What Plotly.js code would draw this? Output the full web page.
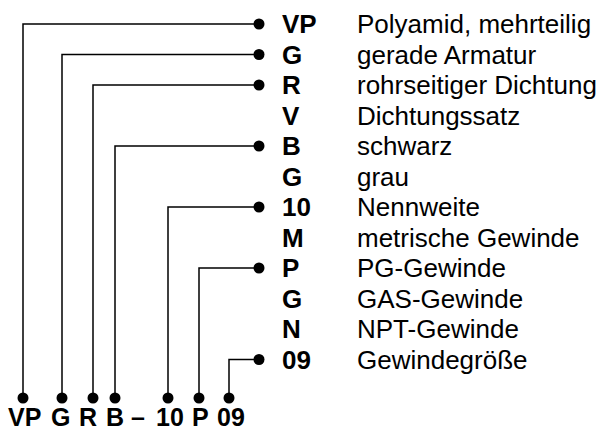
<!DOCTYPE html>
<html>
<head>
<meta charset="utf-8">
<script src="https://cdn.plot.ly/plotly-3.0.1.min.js"></script>
<style>html,body{margin:0;padding:0;background:#fff}#chart{width:606px;height:432px}</style>
</head>
<body>
<div id="chart"></div>
<script>
// ---- data ----
const codes = ["VP","G","R","V","B","G","10","M","P","G","N","09"];
const descriptions = ["Polyamid, mehrteilig","gerade Armatur","rohrseitiger Dichtung","Dichtungssatz","schwarz","grau","Nennweite","metrische Gewinde","PG-Gewinde","GAS-Gewinde","NPT-Gewinde","Gewindegröße"];
const partCodes = ["VP","G","R","B","10","P","09"];
const partRows = [0,1,2,4,6,8,11];
const separator = "–";

// ---- layout (pixel geometry) ----
const G = {
  rowTop: 24, rowStep: 30.5,
  dotX: 259, codeX: 280, descX: 355,
  bottomDotY: 398, bottomTextY: 432,
  colX: [23,62,93,115,168,199,229],
  labelX: [24.5,60,88,115,170,200,231],
  sepX: 138
};
const FONT = 'Liberation Sans, Arial, sans-serif';
const rowY = i => G.rowTop + i*G.rowStep;

const traces = [];
partCodes.forEach((c,k)=>{
  const y = rowY(partRows[k]);
  traces.push({
    type:'scatter', mode:'lines',
    x:[G.colX[k], G.colX[k], G.dotX],
    y:[G.bottomDotY, y, y],
    line:{color:'#000', width:1.5},
    hoverinfo:'skip', showlegend:false
  });
  traces.push({
    type:'scatter', mode:'markers',
    x:[G.colX[k], G.dotX],
    y:[G.bottomDotY, y],
    marker:{color:'#000', size:11},
    hoverinfo:'skip', showlegend:false
  });
});

const ann = [];
codes.forEach((c,i)=>{
  ann.push({x:G.codeX, y:rowY(i), xref:'x', yref:'y', text:'<b>'+c+'</b>', showarrow:false,
    xanchor:'left', yanchor:'middle', font:{family:FONT, size:26, color:'#000'}});
  ann.push({x:G.descX, y:rowY(i), xref:'x', yref:'y', text:descriptions[i], showarrow:false,
    xanchor:'left', yanchor:'middle', font:{family:FONT, size:26, color:'#000'}});
});
partCodes.forEach((c,k)=>{
  ann.push({x:G.labelX[k], y:G.bottomTextY, xref:'x', yref:'y', text:'<b>'+c+'</b>', showarrow:false,
    xanchor:'center', yanchor:'bottom', borderpad:0, font:{family:FONT, size:25, color:'#000'}});
});
ann.push({x:G.sepX, y:G.bottomTextY, xref:'x', yref:'y', text:'<b>'+separator+'</b>', showarrow:false,
  xanchor:'center', yanchor:'bottom', borderpad:0, font:{family:FONT, size:25, color:'#000'}});

const layout = {
  width:606, height:432,
  margin:{l:0,r:0,t:0,b:0},
  paper_bgcolor:'#fff', plot_bgcolor:'#fff',
  xaxis:{range:[0,606], visible:false, fixedrange:true},
  yaxis:{range:[432,0], visible:false, fixedrange:true},
  annotations:ann, showlegend:false
};
Plotly.newPlot('chart', traces, layout, {staticPlot:true});
</script>
</body>
</html>
